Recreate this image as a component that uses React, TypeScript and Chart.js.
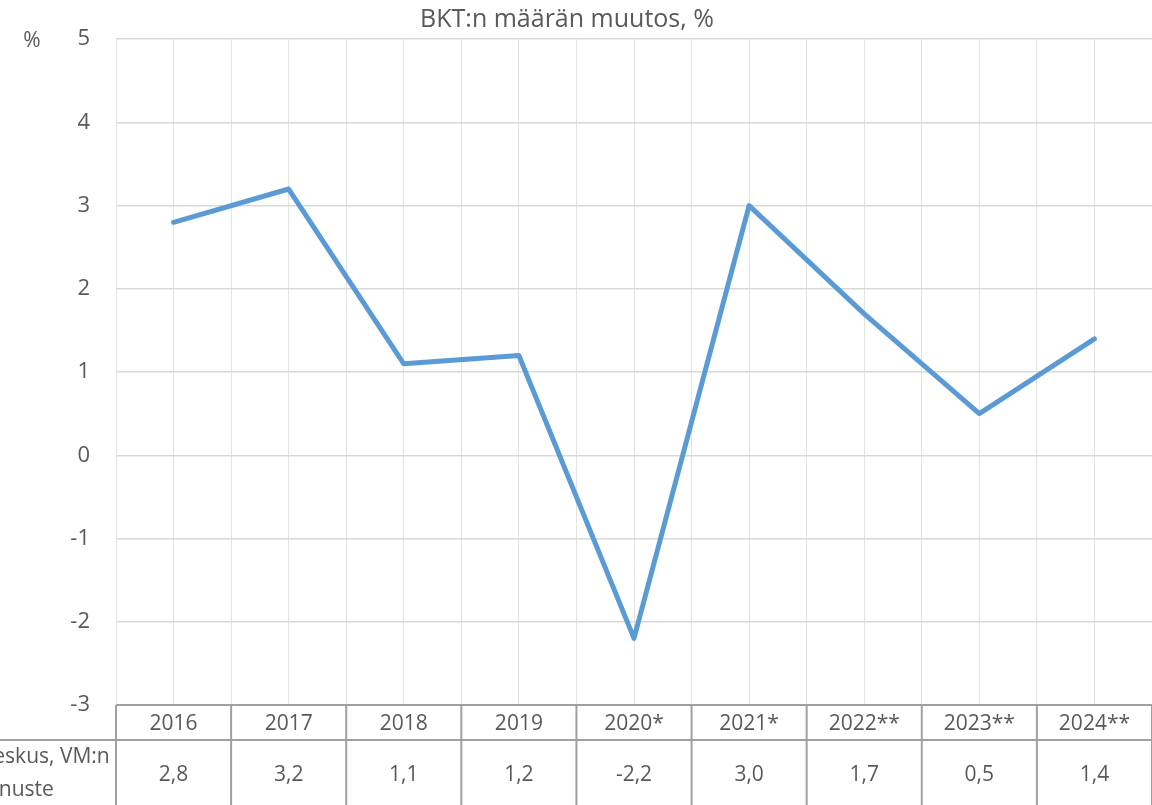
import React, { useEffect, useRef } from "react";
import { Chart, registerables } from "chart.js";

Chart.register(...registerables);

const title = "BKT:n määrän muutos, %";
const yUnit = "%";
const years = ["2016", "2017", "2018", "2019", "2020*", "2021*", "2022**", "2023**", "2024**"];
const growth = [2.8, 3.2, 1.1, 1.2, -2.2, 3.0, 1.7, 0.5, 1.4];
const rowLabel = ["Tilastokeskus, VM:n", "ennuste"];
const yTicks = [5, 4, 3, 2, 1, 0, -1, -2, -3];

const FONT = "'Open Sans', sans-serif";
const TEXT = "#595959";

const tablePlugin = {
  id: "tablePlugin",
  afterDraw(chart: any) {
    const { ctx, chartArea, scales } = chart;
    const x = scales.x;
    const top = chartArea.bottom;
    const mid = top + 35;
    const bottom = chart.height;
    ctx.save();
    // title and unit
    ctx.fillStyle = TEXT;
    ctx.font = `25px ${FONT}`;
    ctx.textAlign = "center";
    ctx.textBaseline = "middle";
    ctx.fillText(title, 567, 20);
    ctx.font = `21px ${FONT}`;
    ctx.fillText(yUnit, 32, 41);

    // table lines
    ctx.strokeStyle = "#a0a0a0";
    ctx.lineWidth = 2;
    ctx.beginPath();
    ctx.moveTo(chartArea.left, top);
    ctx.lineTo(chartArea.right, top);
    ctx.moveTo(0, mid);
    ctx.lineTo(chartArea.right, mid);
    for (let i = 0; i <= years.length; i++) {
      const px = x.getPixelForValue(i - 0.5);
      ctx.moveTo(px, top);
      ctx.lineTo(px, bottom);
    }
    ctx.stroke();

    ctx.font = `21px ${FONT}`;
    ctx.fillStyle = TEXT;
    years.forEach((yr, i) => {
      const px = x.getPixelForValue(i);
      ctx.fillText(yr, px, (top + mid) / 2 + 2);
      ctx.fillText(growth[i].toFixed(1).replace(".", ","), px, (mid + bottom) / 2 + 3);
    });
    ctx.fillText(rowLabel[0], 14, mid + 17);
    ctx.fillText(rowLabel[1], 14, mid + 50);
    ctx.restore();
  },
};

export default function App() {
  const ref = useRef<HTMLCanvasElement>(null);
  useEffect(() => {
    document.body.style.margin = "0";
    document.body.style.overflow = "hidden";
    const chart = new Chart(ref.current!, {
      type: "line",
      data: {
        datasets: [
          {
            data: growth.map((v, i) => ({ x: i, y: v })),
            borderColor: "#5b9bd5",
            borderWidth: 5,
            pointRadius: 0,
            borderJoinStyle: "round",
            borderCapStyle: "round",
            tension: 0,
          },
        ],
      },
      options: {
        responsive: false,
        animation: false,
        layout: { padding: { top: 35, right: 0, left: 0, bottom: 0 } },
        plugins: { legend: { display: false }, title: { display: false }, tooltip: { enabled: false } },
        scales: {
          x: {
            type: "linear",
            min: -0.5,
            max: 8.5,
            ticks: { display: false, stepSize: 0.5 },
            grid: { color: "#e3e3e3", lineWidth: 1, drawTicks: false },
            border: { display: false },
            afterFit(scale: any) {
              scale.height = 100;
            },
          },
          y: {
            min: -3,
            max: 5,
            afterBuildTicks(scale: any) {
              scale.ticks = yTicks.map((v) => ({ value: v }));
            },
            ticks: {
              color: TEXT,
              font: { family: "'Open Sans', sans-serif", size: 22 },
              padding: 26,
            },
            grid: { color: "#d9d9d9", lineWidth: 1.5, drawTicks: false },
            border: { display: false },
            afterFit(scale: any) {
              scale.width = 116;
            },
          },
        },
      },
      plugins: [tablePlugin],
    } as any);
    return () => chart.destroy();
  }, []);
  return <canvas ref={ref} width={1152} height={805} style={{ display: "block" }} />;
}
